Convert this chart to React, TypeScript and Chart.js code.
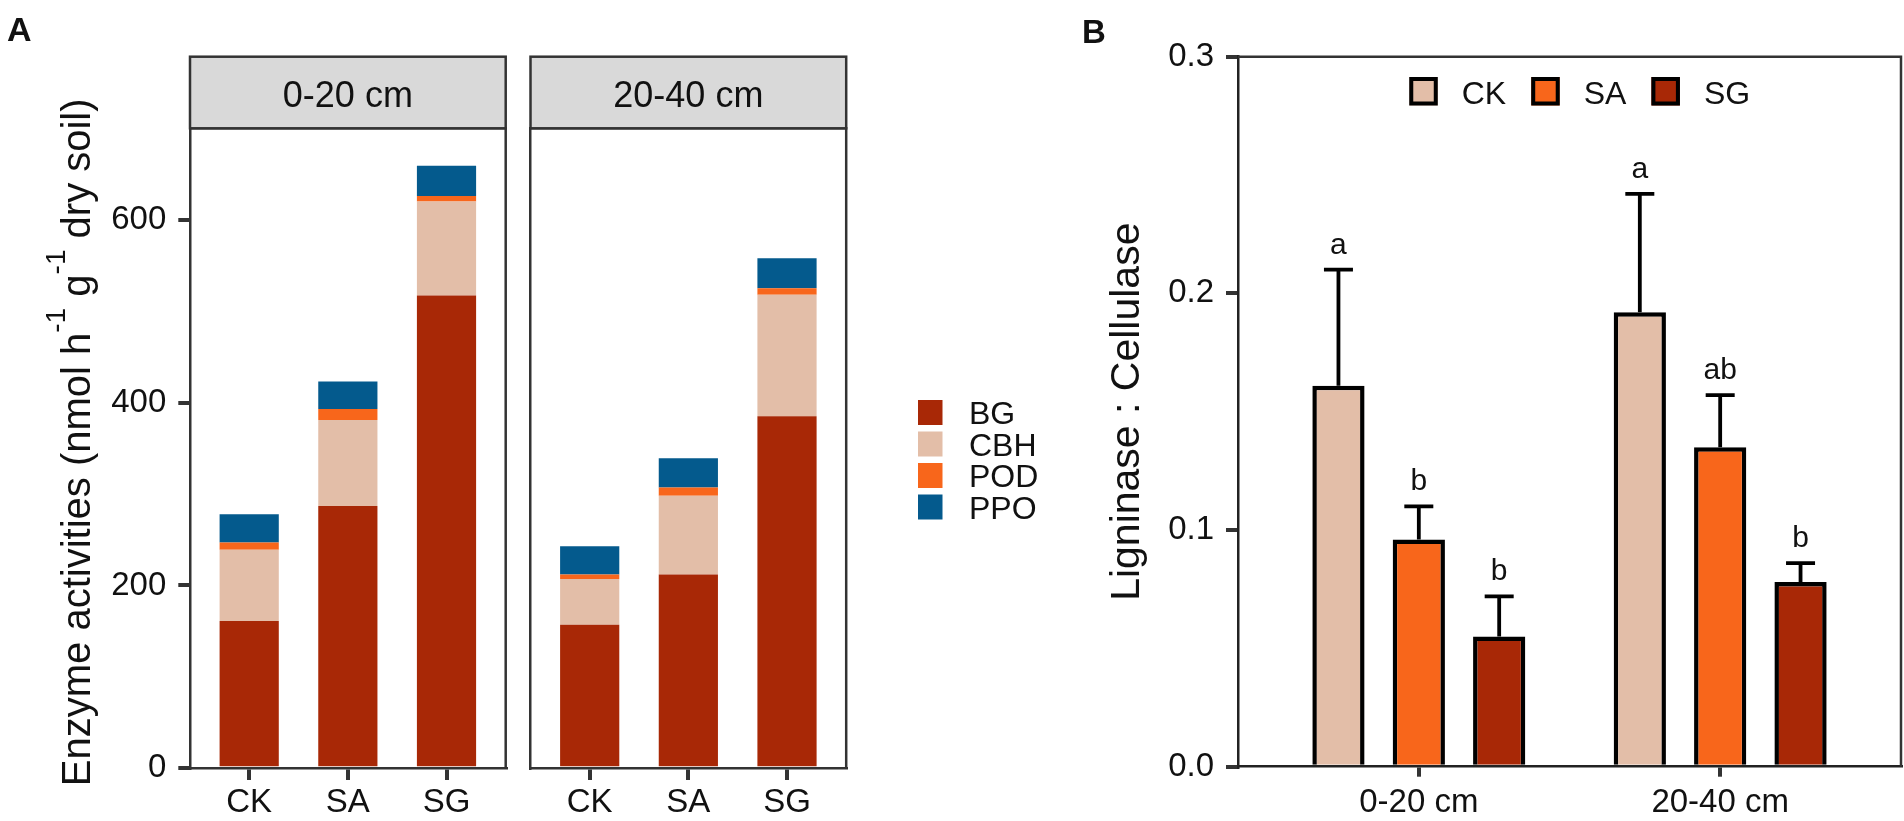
import React, { useEffect, useRef } from "react";
import { Chart, registerables } from "chart.js";

Chart.register(...registerables);

// ---------------- data ----------------
const depths = ["0-20 cm", "20-40 cm"];
const treatments = ["CK", "SA", "SG"];
const enzymes = ["BG", "CBH", "POD", "PPO"];

// Panel A: enzyme activities (stacked layers), order CK, SA, SG
const BG_0_20 = [161, 287, 517];
const CBH_0_20 = [78, 94, 103];
const POD_0_20 = [8, 12, 6];
const PPO_0_20 = [31, 30, 33];
const BG_20_40 = [157, 212, 385];
const CBH_20_40 = [50, 86, 133];
const POD_20_40 = [5, 9, 7];
const PPO_20_40 = [31, 32, 33];
const yTicksA = [0, 200, 400, 600];

// Panel B: Ligninase : Cellulase, order 0-20 cm, 20-40 cm
const ratioCK = [0.161, 0.192];
const ratioSA = [0.096, 0.135];
const ratioSG = [0.055, 0.078];
const seCK = [0.049, 0.05];
const seSA = [0.014, 0.022];
const seSG = [0.017, 0.008];
const lettersCK = ["a", "a"];
const lettersSA = ["b", "ab"];
const lettersSG = ["b", "b"];
const yTicksB = [0, 0.1, 0.2, 0.3];

// ---------------- style / layout ----------------
const W = 1904;
const H = 821;
const FONT = "'Liberation Sans', Arial, Helvetica, sans-serif";
const INK = "#111111";
const FRAME = "#333333";
const ENZYME_COLORS = ["#A82806", "#E3BEA8", "#F8661B", "#045A8D"];
const TREAT_COLORS = ["#E3BEA8", "#F8661B", "#A82806"];

const A_STRIP_TOP = 56.7;
const A_TOP = 128.3;
const A_BOTTOM = 768.3;
const A_FACETS = [
  { padLeft: 0, axisWidth: 190, right: 505.7 },
  { padLeft: 520, axisWidth: 10.5, right: 846.2 },
];
const B_PAD_LEFT = 1060;
const B_AXIS_W = 178;
const B_RIGHT = 1901;
const B_TOP = 56.7;
const B_BOTTOM = 766.7;

const LAYERS = [
  [BG_0_20, CBH_0_20, POD_0_20, PPO_0_20],
  [BG_20_40, CBH_20_40, POD_20_40, PPO_20_40],
];
const RATIOS = [ratioCK, ratioSA, ratioSG];
const SES = [seCK, seSA, seSG];
const LETTERS = [lettersCK, lettersSA, lettersSG];

type Part = { text: string; sup?: boolean };

function drawVerticalTitle(ctx: CanvasRenderingContext2D, parts: Part[], x: number, cy: number, size: number) {
  ctx.save();
  ctx.translate(x, cy);
  ctx.rotate(-Math.PI / 2);
  const supSize = size * 0.7;
  let total = 0;
  const widths = parts.map((p) => {
    ctx.font = `${p.sup ? supSize : size}px ${FONT}`;
    const w = ctx.measureText(p.text).width;
    total += w;
    return w;
  });
  let x0 = -total / 2;
  ctx.textAlign = "left";
  ctx.textBaseline = "alphabetic";
  ctx.fillStyle = INK;
  parts.forEach((p, i) => {
    ctx.font = `${p.sup ? supSize : size}px ${FONT}`;
    ctx.fillText(p.text, x0, p.sup ? -size * 0.62 : 0);
    x0 += widths[i];
  });
  ctx.restore();
}

const facetPlugin = {
  id: "facetDecor",
  afterDraw(chart: any, _args: any, opts: any) {
    const { ctx, chartArea: a } = chart;
    ctx.save();
    ctx.strokeStyle = FRAME;
    ctx.lineWidth = 2.5;
    ctx.beginPath();
    ctx.moveTo(a.left, a.top);
    ctx.lineTo(a.right, a.top);
    ctx.lineTo(a.right, a.bottom);
    ctx.stroke();
    // strip
    ctx.fillStyle = "#D9D9D9";
    ctx.fillRect(a.left, A_STRIP_TOP, a.right - a.left, a.top - A_STRIP_TOP);
    ctx.strokeRect(a.left, A_STRIP_TOP, a.right - a.left, a.top - A_STRIP_TOP);
    ctx.fillStyle = INK;
    ctx.font = `36px ${FONT}`;
    ctx.textAlign = "center";
    ctx.textBaseline = "alphabetic";
    ctx.fillText(opts.strip, (a.left + a.right) / 2, 106.7);

    if (opts.first) {
      ctx.font = `bold 34px ${FONT}`;
      ctx.textAlign = "left";
      ctx.fillText("A", 7, 41);
      drawVerticalTitle(
        ctx,
        [
          { text: "Enzyme activities (nmol h" },
          { text: "-1", sup: true },
          { text: " g" },
          { text: "-1", sup: true },
          { text: " dry soil)" },
        ],
        90,
        (a.top + a.bottom) / 2 - 6,
        40
      );
    }
    if (opts.legend) {
      ctx.font = `32px ${FONT}`;
      ctx.textAlign = "left";
      ctx.textBaseline = "alphabetic";
      chart.data.datasets.forEach((ds: any, i: number) => {
        const cy = 412.5 + i * 31.5;
        ctx.fillStyle = ds.backgroundColor;
        ctx.fillRect(918, cy - 12.5, 24.5, 25);
        ctx.fillStyle = INK;
        ctx.fillText(ds.label, 969, cy + 11.5);
      });
    }
    ctx.restore();
  },
};

function facetConfig(fi: number): any {
  const f = A_FACETS[fi];
  const first = fi === 0;
  return {
    type: "bar",
    data: {
      datasets: enzymes.map((name, k) => ({
        label: name,
        data: treatments.map((_t, j) => ({ x: j + 1, y: LAYERS[fi][k][j] })),
        backgroundColor: ENZYME_COLORS[k],
        borderWidth: 0,
        barPercentage: 0.6,
        categoryPercentage: 1,
      })),
    },
    options: {
      responsive: false,
      maintainAspectRatio: false,
      animation: false,
      devicePixelRatio: 1,
      layout: { padding: { left: f.padLeft, right: W - f.right, top: A_TOP, bottom: 0 } },
      plugins: {
        legend: { display: false },
        tooltip: { enabled: false },
        facetDecor: { strip: depths[fi], first, legend: fi === 1 },
      },
      scales: {
        x: {
          type: "linear",
          min: 0.4,
          max: 3.6,
          offset: false,
          stacked: true,
          z: 1,
          afterBuildTicks: (s: any) => {
            s.ticks = treatments.map((_t, j) => ({ value: j + 1 }));
          },
          afterFit: (s: any) => {
            s.height = H - A_BOTTOM;
          },
          ticks: {
            autoSkip: false,
            maxRotation: 0,
            padding: 3,
            color: INK,
            font: { family: FONT, size: 33 },
            callback: (v: any) => treatments[Math.round(Number(v)) - 1] ?? "",
          },
          grid: {
            offset: false,
            drawOnChartArea: false,
            drawTicks: true,
            tickLength: 11.7,
            lineWidth: 4,
            color: FRAME,
          },
          border: { display: true, color: FRAME, width: 2.5 },
        },
        y: {
          type: "linear",
          min: 0,
          max: 700,
          stacked: true,
          z: 1,
          afterBuildTicks: (s: any) => {
            s.ticks = yTicksA.map((v) => ({ value: v }));
          },
          afterFit: (s: any) => {
            s.width = f.axisWidth;
          },
          ticks: {
            display: first,
            padding: 12,
            color: INK,
            font: { family: FONT, size: 33 },
          },
          grid: { drawOnChartArea: false, drawTicks: first, tickLength: 11.7, lineWidth: 4, color: FRAME },
          border: { display: true, color: FRAME, width: 2.5 },
        },
      },
    },
    plugins: [facetPlugin],
  };
}

const panelBPlugin = {
  id: "panelBDecor",
  afterDatasetsDraw(chart: any) {
    const { ctx } = chart;
    const ys = chart.scales.y;
    ctx.save();
    chart.data.datasets.forEach((_ds: any, i: number) => {
      const meta = chart.getDatasetMeta(i);
      meta.data.forEach((bar: any, j: number) => {
        const top = ys.getPixelForValue(RATIOS[i][j] + SES[i][j]);
        ctx.strokeStyle = "#000";
        ctx.lineWidth = 3.8;
        ctx.beginPath();
        ctx.moveTo(bar.x, bar.y);
        ctx.lineTo(bar.x, top);
        ctx.moveTo(bar.x - 14.5, top);
        ctx.lineTo(bar.x + 14.5, top);
        ctx.stroke();
        ctx.fillStyle = INK;
        ctx.font = `30px ${FONT}`;
        ctx.textAlign = "center";
        ctx.textBaseline = "alphabetic";
        ctx.fillText(LETTERS[i][j], bar.x, top - 16);
      });
    });
    ctx.restore();
  },
  afterDraw(chart: any) {
    const { ctx, chartArea: a } = chart;
    ctx.save();
    ctx.strokeStyle = FRAME;
    ctx.lineWidth = 2.5;
    ctx.beginPath();
    ctx.moveTo(a.left, a.top);
    ctx.lineTo(a.right, a.top);
    ctx.lineTo(a.right, a.bottom);
    ctx.stroke();

    // legend (inside, top)
    ctx.font = `32px ${FONT}`;
    const box = 28.5;
    const gapText = 24;
    const gapItem = 25;
    const items = chart.data.datasets.map((ds: any) => ({
      label: ds.label,
      color: ds.backgroundColor,
      w: ctx.measureText(ds.label).width,
    }));
    const total =
      items.reduce((s: number, it: any) => s + box + gapText + it.w, 0) + gapItem * (items.length - 1);
    let x = 1579.7 - total / 2;
    const by = 77;
    items.forEach((it: any) => {
      ctx.fillStyle = it.color;
      ctx.fillRect(x, by, box, box);
      ctx.strokeStyle = "#000";
      ctx.lineWidth = 4;
      ctx.strokeRect(x + 2, by + 2, box - 4, box - 4);
      ctx.fillStyle = INK;
      ctx.textAlign = "left";
      ctx.textBaseline = "alphabetic";
      ctx.fillText(it.label, x + box + gapText, 103.5);
      x += box + gapText + it.w + gapItem;
    });

    ctx.font = `bold 33px ${FONT}`;
    ctx.fillStyle = INK;
    ctx.textAlign = "left";
    ctx.fillText("B", 1082, 43);

    drawVerticalTitle(ctx, [{ text: "Ligninase : Cellulase" }], 1139.4, (a.top + a.bottom) / 2, 41);
    ctx.restore();
  },
};

function panelBConfig(): any {
  return {
    type: "bar",
    data: {
      datasets: treatments.map((t, k) => ({
        label: t,
        data: depths.map((_d, j) => ({ x: j + 1, y: RATIOS[k][j] })),
        backgroundColor: TREAT_COLORS[k],
        borderColor: "#000000",
        borderWidth: 4.5,
        barPercentage: 0.65,
        categoryPercentage: 0.8,
      })),
    },
    options: {
      responsive: false,
      maintainAspectRatio: false,
      animation: false,
      devicePixelRatio: 1,
      layout: { padding: { left: B_PAD_LEFT, right: W - B_RIGHT, top: B_TOP, bottom: 0 } },
      plugins: { legend: { display: false }, tooltip: { enabled: false } },
      scales: {
        x: {
          type: "linear",
          min: 0.4,
          max: 2.6,
          offset: false,
          z: 1,
          afterBuildTicks: (s: any) => {
            s.ticks = depths.map((_d, j) => ({ value: j + 1 }));
          },
          afterFit: (s: any) => {
            s.height = H - B_BOTTOM;
          },
          ticks: {
            autoSkip: false,
            maxRotation: 0,
            padding: 6,
            color: INK,
            font: { family: FONT, size: 33 },
            callback: (v: any) => depths[Math.round(Number(v)) - 1] ?? "",
          },
          grid: {
            offset: false,
            drawOnChartArea: false,
            drawTicks: true,
            tickLength: 10,
            lineWidth: 4,
            color: FRAME,
          },
          border: { display: true, color: "#222222", width: 2.5 },
        },
        y: {
          type: "linear",
          min: 0,
          max: 0.3,
          z: 1,
          afterBuildTicks: (s: any) => {
            s.ticks = yTicksB.map((v) => ({ value: v }));
          },
          afterFit: (s: any) => {
            s.width = B_AXIS_W;
          },
          ticks: {
            padding: 12,
            color: INK,
            font: { family: FONT, size: 33 },
            callback: (v: any) => Number(v).toFixed(1),
          },
          grid: { drawOnChartArea: false, drawTicks: true, tickLength: 12, lineWidth: 4, color: FRAME },
          border: { display: true, color: "#222222", width: 2.5 },
        },
      },
    },
    plugins: [panelBPlugin],
  };
}

function ChartCanvas({ make }: { make: () => any }) {
  const ref = useRef<HTMLCanvasElement>(null);
  useEffect(() => {
    if (!ref.current) return;
    const chart = new Chart(ref.current, make());
    return () => chart.destroy();
  }, []);
  return (
    <canvas
      ref={ref}
      width={W}
      height={H}
      style={{ position: "absolute", left: 0, top: 0, width: W, height: H }}
    />
  );
}

export default function App() {
  return (
    <div
      style={{
        position: "absolute",
        left: 0,
        top: 0,
        width: W,
        height: H,
        background: "#ffffff",
        overflow: "hidden",
      }}
    >
      <ChartCanvas make={() => facetConfig(0)} />
      <ChartCanvas make={() => facetConfig(1)} />
      <ChartCanvas make={panelBConfig} />
    </div>
  );
}
